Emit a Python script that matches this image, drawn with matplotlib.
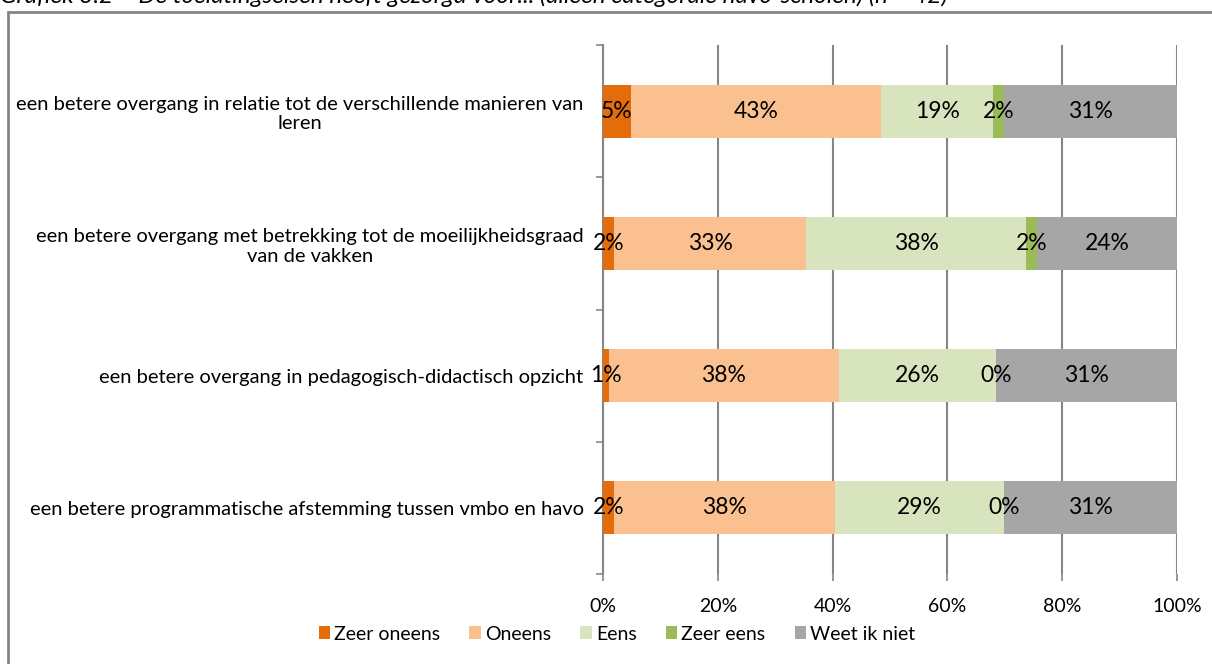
import numpy as np
import matplotlib
matplotlib.use('Agg')
import matplotlib.pyplot as plt
from matplotlib.patches import Rectangle

# %% data (top row first), values in %
statements = [
    'een betere overgang in relatie tot de verschillende manieren van\nleren',
    'een betere overgang met betrekking tot de moeilijkheidsgraad\nvan de vakken',
    'een betere overgang in pedagogisch-didactisch opzicht',
    'een betere programmatische afstemming tussen vmbo en havo',
]
categories = ['Zeer oneens', 'Oneens', 'Eens', 'Zeer eens', 'Weet ik niet']

zeer_oneens = [4.9, 1.9, 1.0, 1.9]
oneens = [43.6, 33.5, 40.1, 38.5]
eens = [19.4, 38.3, 27.4, 29.4]
zeer_eens = [1.9, 1.9, 0.0, 0.0]
weet_niet = [30.2, 24.4, 31.5, 30.2]

# data labels as printed in the chart
labels_zeer_oneens = ['5%', '2%', '1%', '2%']
labels_oneens = ['43%', '33%', '38%', '38%']
labels_eens = ['19%', '38%', '26%', '29%']
labels_zeer_eens = ['2%', '2%', '0%', '0%']
labels_weet_niet = ['31%', '24%', '31%', '31%']

colors = ['#E46C0A', '#FAC090', '#D7E4BD', '#9BBB59', '#A6A6A6']
grid_col = '#868686'

plt.rcParams['font.family'] = ['Lato', 'DejaVu Sans']

# %% plot
fig = plt.figure(figsize=(12.12, 6.64), dpi=100)
ax = fig.add_axes([603/1212, 1-574/664, 574/1212, 529/664])

series = [zeer_oneens, oneens, eens, zeer_eens, weet_niet]
series_labels = [labels_zeer_oneens, labels_oneens, labels_eens,
                 labels_zeer_eens, labels_weet_niet]
ypos = np.arange(len(statements))[::-1]
left = np.zeros(len(statements))
for vals, labs, col, name in zip(series, series_labels, colors, categories):
    vals = np.array(vals)
    ax.barh(ypos, vals, left=left, height=0.4, color=col, label=name, zorder=3)
    for y, l, v, t in zip(ypos, left, vals, labs):
        ax.text(l + v/2, y, t, ha='center', va='center', fontsize=16.5,
                color='black', zorder=4)
    left = left + vals

ax.set_xlim(0, 100)
ax.set_ylim(-0.5, len(statements) - 0.5)
ax.set_xticks(np.arange(0, 101, 20))
ax.set_xticklabels([f'{v}%' for v in range(0, 101, 20)], fontsize=14)
ax.xaxis.grid(True, color=grid_col, lw=1.5, zorder=0)
ax.tick_params(axis='x', length=5, width=1.2, color=grid_col, pad=12)

# separators between categories as major ticks, labels on minor ticks
ax.set_yticks(np.arange(-0.5, len(statements)), minor=False)
ax.set_yticklabels([])
ax.set_yticks(ypos, labels=statements, minor=True, fontsize=14.5,
              multialignment='center')
ax.tick_params(axis='y', which='major', length=5, width=1.2, color=grid_col)
ax.tick_params(axis='y', which='minor', length=0, pad=14)

for s in ['top', 'right', 'bottom']:
    ax.spines[s].set_visible(False)
ax.spines['left'].set_color(grid_col)
ax.spines['left'].set_linewidth(1.5)

fig.legend(loc='center', bbox_to_anchor=(617/1212, 1-634/664), ncol=5,
           frameon=False, fontsize=14, handlelength=0.6, handleheight=0.6,
           handletextpad=0.2, columnspacing=1.5)

# chart border and caption (cut off at the top, as in the source)
fig.patches.append(Rectangle((8/1212, -0.05), 1.1, 1-12/664+0.05,
                             transform=fig.transFigure, fill=False,
                             edgecolor=grid_col, lw=2))
fig.text(0, 1-3/664, 'Grafiek 3.2 – De toelatingseisen heeft gezorgd voor... '
         '(alleen categorale havo-scholen) (n = 42)',
         fontsize=17.5, style='italic', va='baseline', ha='left')

plt.savefig('out.png', dpi=100)
